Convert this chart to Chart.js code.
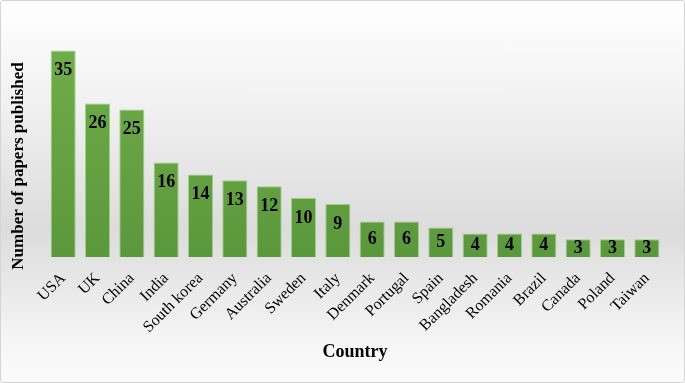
<!DOCTYPE html>
<html>
<head>
<meta charset="utf-8">
<script src="https://cdn.jsdelivr.net/npm/chart.js@4"></script>
<style>
    html, body { margin: 0; padding: 0; }
    body { width: 685px; height: 383px; overflow: hidden; }
    #wrap {
        position: relative; width: 683px; height: 381px;
        border: 1px solid #d4d4d4; border-radius: 3px;
        background: linear-gradient(to bottom, #ffffff 0%, #f2f2f2 25%, #dcdcdc 60%, #e6e6e6 72%, #f6f6f6 90%, #fbfbfb 100%);
    }
    canvas { display: block; }
</style>
</head>
<body>
<div id="wrap"><canvas id="chart" width="683" height="381"></canvas></div>
<script>
const countries = ['USA', 'UK', 'China', 'India', 'South korea', 'Germany', 'Australia', 'Sweden', 'Italy',
                   'Denmark', 'Portugal', 'Spain', 'Bangladesh', 'Romania', 'Brazil', 'Canada', 'Poland', 'Taiwan'];
const papers    = [35, 26, 25, 16, 14, 13, 12, 10, 9, 6, 6, 5, 4, 4, 4, 3, 3, 3];
const yTitle    = 'Number of papers published';
const xTitle    = 'Country';

const serif = '"Liberation Serif", "Times New Roman", serif';

// ── Bar value labels, near the top inside each bar ──
const valueLabels = {
    id: 'valueLabels',
    afterDatasetsDraw(chart) {
        const ctx = chart.ctx;
        const meta = chart.getDatasetMeta(0);
        ctx.save();
        ctx.font = 'bold 18px ' + serif;
        ctx.fillStyle = '#000';
        ctx.textAlign = 'center';
        ctx.textBaseline = 'middle';
        meta.data.forEach((bar, i) => {
            const mid = (bar.y + bar.base) / 2;
            const y = Math.min(bar.y + 20, mid);
            ctx.fillText(String(papers[i]), bar.x, y);
        });
        ctx.restore();
    }
};

// ── Y title, placed like the original (centred lower than the plot) ──
const sideTitle = {
    id: 'sideTitle',
    afterDraw(chart) {
        const ctx = chart.ctx;
        ctx.save();
        ctx.translate(18, 165);
        ctx.rotate(-Math.PI / 2);
        ctx.font = 'bold 17px ' + serif;
        ctx.fillStyle = '#000';
        ctx.textAlign = 'center';
        ctx.textBaseline = 'middle';
        ctx.fillText(yTitle, 0, 0);
        ctx.restore();
    }
};

function barFill(context) {
    const { chart } = context;
    const area = chart.chartArea;
    if (!area) return '#66a543';
    const g = chart.ctx.createLinearGradient(0, area.top, 0, area.bottom);
    g.addColorStop(0, '#72b04a');
    g.addColorStop(1, '#5a983c');
    return g;
}

new Chart(document.getElementById('chart').getContext('2d'), {
    type: 'bar',
    data: {
        labels: countries,
        datasets: [{
            data: papers,
            backgroundColor: barFill,
            borderColor: 'rgba(150,205,120,0.9)',
            borderWidth: 1,
            barPercentage: 0.73,
            categoryPercentage: 1.0,
        }],
    },
    options: {
        responsive: false, animation: false,
        layout: { padding: { top: 20, right: 20, bottom: 19, left: 0 } },
        plugins: { legend: { display: false }, tooltip: { enabled: false } },
        scales: {
            x: {
                grid: { display: false, drawTicks: false },
                border: { display: false },
                ticks: {
                    color: '#000', font: { family: serif, size: 16 },
                    minRotation: 45, maxRotation: 45, padding: 12,
                    autoSkip: false,
                },
                title: {
                    display: true, text: xTitle, color: '#000',
                    font: { family: serif, size: 18, weight: 'bold' },
                    padding: { top: 4, bottom: 0 },
                },
                afterFit: s => { s.height = 106; },
            },
            y: {
                min: 0, max: 40,
                display: true,
                grid: { display: false, drawTicks: false },
                border: { display: false },
                ticks: { display: false },
                afterFit: s => { s.width = 45; },
            },
        },
    },
    plugins: [valueLabels, sideTitle],
});
</script>
</body>
</html>
